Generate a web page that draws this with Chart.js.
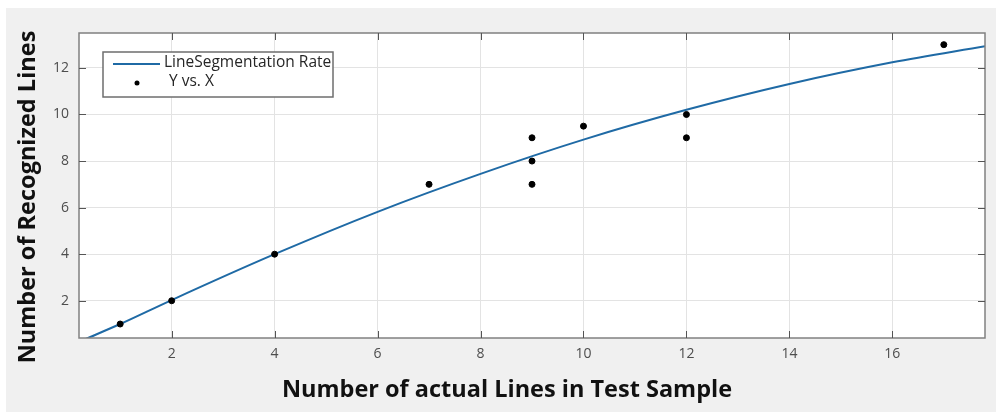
<!DOCTYPE html>
<html>
<head>
<meta charset="utf-8">
<script src="https://cdn.jsdelivr.net/npm/chart.js@4.4.1/dist/chart.umd.min.js"></script>
<style>
  html, body { margin: 0; padding: 0; background: #fff; }
  canvas { display: block; }
</style>
</head>
<body>
<canvas id="chart" width="996" height="412"></canvas>
<script>
// fitted curve
const fitX = [0.3, 1, 2, 4, 6, 8, 10, 12, 14, 16, 17.8];
const fitY = [0.33, 1.0, 2.03, 4.0, 5.82, 7.45, 8.92, 10.2, 11.31, 12.24, 12.93];

// measured samples (actual lines vs recognized lines)
const sampleX = [1, 2, 4, 7, 9, 9, 9, 10, 12, 12, 17];
const sampleY = [1, 2, 4, 7, 9, 8, 7, 9.5, 10, 9, 13];

const xTicks = [2, 4, 6, 8, 10, 12, 14, 16];
const yTicks = [2, 4, 6, 8, 10, 12];

const fitLabel = 'LineSegmentation Rate';
const sampleLabel = 'Y vs. X';
const xTitle = 'Number of actual Lines in Test Sample';
const yTitle = 'Number of Recognized Lines';

const lineColor = '#1f6aa5';
const axisColor = '#808080';

const frame = {
  id: 'frame',
  beforeDraw(chart) {
    const { ctx, chartArea: a } = chart;
    ctx.save();
    ctx.fillStyle = '#ffffff';
    ctx.fillRect(0, 0, chart.width, chart.height);
    ctx.fillStyle = '#f0f0f0';
    ctx.fillRect(6, 8, chart.width - 6, chart.height - 8);
    ctx.fillStyle = '#ffffff';
    ctx.fillRect(a.left, a.top, a.right - a.left, a.bottom - a.top);
    ctx.restore();
  },
  afterDraw(chart) {
    const { ctx, chartArea: a, scales } = chart;
    ctx.save();
    // box
    ctx.strokeStyle = axisColor;
    ctx.lineWidth = 1.5;
    ctx.strokeRect(a.left, a.top, a.right - a.left, a.bottom - a.top);
    // inward ticks
    ctx.lineWidth = 1;
    ctx.strokeStyle = '#555';
    ctx.beginPath();
    scales.x.ticks.forEach(t => {
      const px = Math.round(scales.x.getPixelForValue(t.value)) + 0.5;
      ctx.moveTo(px, a.bottom); ctx.lineTo(px, a.bottom - 7);
      ctx.moveTo(px, a.top); ctx.lineTo(px, a.top + 7);
    });
    scales.y.ticks.forEach(t => {
      const py = Math.round(scales.y.getPixelForValue(t.value)) + 0.5;
      ctx.moveTo(a.left, py); ctx.lineTo(a.left + 7, py);
      ctx.moveTo(a.right, py); ctx.lineTo(a.right - 7, py);
    });
    ctx.stroke();

    // legend
    const lx = a.left + 24, ly = a.top + 19, lw = 230, lh = 45;
    ctx.fillStyle = '#fff';
    ctx.fillRect(lx, ly, lw, lh);
    ctx.strokeStyle = '#6e6e6e';
    ctx.lineWidth = 1.5;
    ctx.strokeRect(lx, ly, lw, lh);
    ctx.strokeStyle = lineColor;
    ctx.lineWidth = 2;
    ctx.beginPath();
    ctx.moveTo(lx + 10, ly + 12); ctx.lineTo(lx + 57, ly + 12);
    ctx.stroke();
    ctx.fillStyle = '#000';
    ctx.beginPath();
    ctx.arc(lx + 34, ly + 31, 2.5, 0, Math.PI * 2);
    ctx.fill();
    ctx.fillStyle = '#262626';
    ctx.font = '15.5px "Open Sans"';
    ctx.textBaseline = 'middle';
    ctx.textAlign = 'left';
    ctx.fillText(fitLabel, lx + 61, ly + 11);
    ctx.fillText(sampleLabel, lx + 66, ly + 30);

    // axis titles
    ctx.fillStyle = '#111';
    ctx.font = 'bold 23.5px "Open Sans"';
    ctx.textAlign = 'center';
    ctx.fillText(xTitle, 507, 390);
    ctx.translate(28, 197);
    ctx.rotate(-Math.PI / 2);
    ctx.font = 'bold 23.5px "Open Sans"';
    ctx.fillText(yTitle, 0, 0);
    ctx.restore();
  }
};

new Chart(document.getElementById('chart').getContext('2d'), {
  type: 'scatter',
  data: {
    datasets: [
      {
        label: fitLabel,
        data: fitX.map((x, i) => ({ x: x, y: fitY[i] })),
        showLine: true,
        borderColor: lineColor,
        borderWidth: 2,
        pointRadius: 0,
        cubicInterpolationMode: 'monotone',
        order: 2
      },
      {
        label: sampleLabel,
        data: sampleX.map((x, i) => ({ x: x, y: sampleY[i] })),
        backgroundColor: '#000',
        borderColor: '#000',
        pointRadius: 3,
        order: 1
      }
    ]
  },
  options: {
    responsive: false,
    animation: false,
    layout: { padding: { left: 0, top: 33, right: 11, bottom: 0 } },
    plugins: { legend: { display: false }, tooltip: { enabled: false } },
    scales: {
      x: {
        type: 'linear',
        min: 0.2,
        max: 17.8,
        afterBuildTicks: s => { s.ticks = xTicks.map(v => ({ value: v })); },
        afterFit: s => { s.height = 74; },
        grid: { color: '#e3e3e3', drawTicks: false },
        border: { display: false },
        ticks: { padding: 8, color: '#4d4d4d', font: { family: 'Open Sans', size: 14 } }
      },
      y: {
        type: 'linear',
        min: 0.4,
        max: 13.5,
        afterBuildTicks: s => { s.ticks = yTicks.map(v => ({ value: v })); },
        afterFit: s => { s.width = 79; },
        grid: { color: '#e3e3e3', drawTicks: false },
        border: { display: false },
        ticks: { padding: 10, color: '#4d4d4d', font: { family: 'Open Sans', size: 14 } }
      }
    }
  },
  plugins: [frame]
});
</script>
</body>
</html>
